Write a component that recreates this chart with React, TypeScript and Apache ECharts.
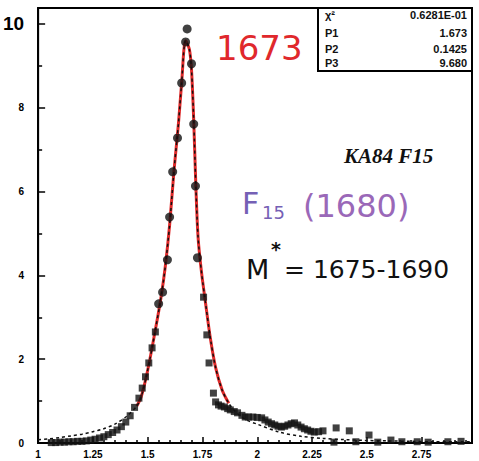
import React, { useEffect, useRef } from "react";
import * as echarts from "echarts";

// Axis settings
const xTicks = [1, 1.25, 1.5, 1.75, 2, 2.25, 2.5, 2.75];
const yTicks = [0, 2, 4, 6, 8, 10];

// Data points near the peak (drawn as dots)
const peakX = [1.55, 1.568, 1.59, 1.60, 1.614, 1.636, 1.655, 1.673, 1.68, 1.70, 1.71, 1.718, 1.727];
const peakY = [3.32, 3.60, 4.37, 5.39, 6.47, 7.28, 8.59, 9.57, 9.88, 9.05, 7.61, 6.13, 4.42];

// Data points, left tail (squares)
const leftX = [1.06, 1.08, 1.10, 1.12, 1.14, 1.16, 1.18, 1.20, 1.22, 1.24, 1.26, 1.28, 1.30, 1.32, 1.34, 1.36, 1.38, 1.40, 1.42, 1.44, 1.46, 1.475, 1.49, 1.505, 1.52, 1.535];
const leftY = [0.01, 0.01, 0.02, 0.02, 0.03, 0.03, 0.04, 0.04, 0.05, 0.07, 0.09, 0.12, 0.15, 0.20, 0.25, 0.31, 0.39, 0.50, 0.65, 0.85, 1.07, 1.31, 1.58, 1.91, 2.27, 2.65];

// Data points, right tail (squares)
const rightX = [1.755, 1.77, 1.78, 1.80, 1.81, 1.823, 1.835, 1.85, 1.865, 1.877, 1.895, 1.91, 1.93, 1.945, 1.96, 1.98, 2.0, 2.02, 2.035, 2.05, 2.065, 2.08, 2.095, 2.11, 2.125, 2.14, 2.155, 2.17, 2.185, 2.20, 2.215, 2.23, 2.245, 2.26, 2.28, 2.30, 2.36, 2.42, 2.51, 2.61, 2.73, 2.87, 2.35, 2.45, 2.55, 2.66, 2.78, 2.93];
const rightY = [3.48, 2.58, 1.91, 1.19, 0.98, 0.91, 0.88, 0.86, 0.82, 0.79, 0.75, 0.72, 0.66, 0.62, 0.62, 0.62, 0.61, 0.60, 0.55, 0.50, 0.46, 0.43, 0.40, 0.38, 0.40, 0.43, 0.46, 0.48, 0.43, 0.38, 0.34, 0.31, 0.28, 0.26, 0.27, 0.29, 0.36, 0.29, 0.19, 0.07, 0.03, 0.03, 0.02, 0.03, 0.02, 0.03, 0.02, 0.04];

// Fit curve (dashed, full range)
const fitX = [1.0, 1.05, 1.1, 1.15, 1.2, 1.25, 1.3, 1.35, 1.4, 1.45, 1.47, 1.49, 1.51, 1.535, 1.56, 1.58, 1.60, 1.62, 1.64, 1.655, 1.673, 1.69, 1.70, 1.71, 1.72, 1.73, 1.745, 1.765, 1.786, 1.81, 1.84, 1.87, 1.9, 1.95, 2.0, 2.1, 2.2, 2.3, 2.4, 2.5, 2.6, 2.7, 2.8, 2.9, 2.98];
const fitY = [0.08, 0.10, 0.13, 0.17, 0.21, 0.27, 0.34, 0.45, 0.62, 0.88, 1.1, 1.5, 2.0, 2.7, 3.45, 4.2, 5.2, 6.5, 7.6, 8.6, 9.6, 9.4, 8.9, 7.7, 6.1, 4.9, 4.1, 3.3, 2.5, 1.8, 1.26, 0.95, 0.75, 0.55, 0.45, 0.26, 0.16, 0.11, 0.08, 0.06, 0.05, 0.04, 0.03, 0.03, 0.03];

// Hand-drawn red overlay (central part of the fit)
const redX = [1.45, 1.47, 1.49, 1.51, 1.535, 1.56, 1.58, 1.60, 1.62, 1.64, 1.655, 1.673, 1.69, 1.70, 1.71, 1.72, 1.73, 1.745, 1.765, 1.786, 1.81, 1.84, 1.87];
const redY = [0.88, 1.1, 1.5, 2.0, 2.7, 3.45, 4.2, 5.2, 6.5, 7.6, 8.6, 9.6, 9.4, 8.9, 7.7, 6.1, 4.9, 4.1, 3.3, 2.5, 1.8, 1.26, 0.95];

// Fit statistics box
const statNames = ["χ²", "P1", "P2", "P3"];
const statValues = ["0.6281E-01", "1.673", "0.1425", "9.680"];

const zip = (xs: number[], ys: number[]) => xs.map((x, i) => [x, ys[i]]);

export default function App() {
  const ref = useRef<HTMLDivElement>(null);
  useEffect(() => {
    if (!ref.current) return;
    const chart = echarts.init(ref.current, null, { renderer: "svg" });
    const statRowsY = [15, 33, 49, 63];
    const statGraphics: any[] = [];
    statNames.forEach((n, i) => {
      statGraphics.push({
        type: "text",
        x: 325,
        y: statRowsY[i],
        z: 100,
        style: { text: n, font: "bold 11px 'Liberation Sans'", fill: "#111", textVerticalAlign: "middle", textAlign: "left" },
      });
      statGraphics.push({
        type: "text",
        x: 467,
        y: statRowsY[i],
        z: 100,
        style: { text: statValues[i], font: "bold 11px 'Liberation Sans'", fill: "#111", textVerticalAlign: "middle", textAlign: "right" },
      });
    });

    chart.setOption({
      animation: false,
      backgroundColor: "#fff",
      grid: { left: 37, top: 8, right: 7, bottom: 18, show: true, borderColor: "#000", borderWidth: 2, backgroundColor: "transparent" },
      xAxis: {
        type: "value",
        min: 1,
        max: 2.98,
        interval: 0.25,
        splitLine: { show: false },
        axisLine: { lineStyle: { color: "#000", width: 2 } },
        axisTick: { inside: true, length: 6, lineStyle: { color: "#000", width: 1.5 } },
        minorTick: { show: true, splitNumber: 5, length: 3, lineStyle: { color: "#000", width: 1.5 } },
        axisLabel: {
          color: "#000",
          fontWeight: "bold",
          fontSize: 10,
          fontFamily: "Liberation Sans",
          margin: 6,
          showMaxLabel: false,
          formatter: (v: number) => (xTicks.some((t) => Math.abs(t - v) < 1e-6) ? String(v) : ""),
        },
      },
      yAxis: {
        type: "value",
        min: 0,
        max: 10.38,
        interval: 2,
        splitLine: { show: false },
        axisLine: { lineStyle: { color: "#000", width: 2 } },
        axisTick: { inside: true, length: 7, lineStyle: { color: "#000", width: 1.5 } },
        minorTick: { show: true, splitNumber: 2, length: 4, lineStyle: { color: "#000", width: 1.5 } },
        axisLabel: {
          color: "#000",
          fontWeight: "bold",
          fontSize: 10,
          fontFamily: "Liberation Sans",
          margin: 14,
          showMaxLabel: false,
          formatter: (v: number) => {
            if (!yTicks.includes(v)) return "";
            return v === 10 ? "{big|10}" : String(v);
          },
          rich: { big: { fontSize: 19, fontWeight: "bold", fontFamily: "Liberation Sans", color: "#000" } },
        },
      },
      series: [
        {
          type: "line",
          data: zip(redX, redY),
          showSymbol: false,
          smooth: 0.3,
          lineStyle: { color: "#e02a2a", width: 3 },
          z: 2,
        },
        {
          type: "line",
          data: zip(fitX, fitY),
          showSymbol: false,
          smooth: 0.3,
          lineStyle: { color: "#111", width: 1.5, type: [3, 3] },
          z: 3,
        },
        {
          type: "scatter",
          data: zip(leftX, leftY),
          symbol: "rect",
          symbolSize: 7,
          itemStyle: { color: "#111" },
          z: 4,
        },
        {
          type: "scatter",
          data: zip(rightX, rightY),
          symbol: "rect",
          symbolSize: 7,
          itemStyle: { color: "#111" },
          z: 4,
        },
        {
          type: "scatter",
          data: zip(peakX, peakY),
          symbol: "circle",
          symbolSize: 9,
          itemStyle: { color: "#111" },
          z: 5,
        },
      ],
      graphic: [
        {
          type: "rect",
          z: 90,
          shape: { x: 318, y: 8, width: 154, height: 63 },
          style: { fill: "#fff", stroke: "#000", lineWidth: 2 },
        },
        ...statGraphics,
        {
          type: "text",
          x: 216,
          y: 48,
          z: 100,
          style: { text: "1673", font: "34px 'DejaVu Sans'", fill: "#e0282c", textVerticalAlign: "middle" },
        },
        {
          type: "text",
          x: 344,
          y: 156,
          z: 100,
          style: { text: "KA84 F15", font: "italic bold 21px 'Liberation Serif'", fill: "#111", textVerticalAlign: "middle" },
        },
        {
          type: "text",
          x: 242,
          y: 203,
          z: 100,
          style: { text: "F", font: "30px 'DejaVu Sans'", fill: "#7560b5", textVerticalAlign: "middle" },
        },
        {
          type: "text",
          x: 262,
          y: 212,
          z: 100,
          style: { text: "15", font: "18px 'DejaVu Sans'", fill: "#7560b5", textVerticalAlign: "middle" },
        },
        {
          type: "text",
          x: 303,
          y: 206,
          z: 100,
          style: { text: "(1680)", font: "32px 'DejaVu Sans'", fill: "#9a68b8", textVerticalAlign: "middle" },
        },
        {
          type: "text",
          x: 246,
          y: 269,
          z: 100,
          style: { text: "M", font: "27px 'DejaVu Sans'", fill: "#111", textVerticalAlign: "middle" },
        },
        {
          type: "text",
          x: 271,
          y: 249,
          z: 100,
          style: { text: "*", font: "bold 19px 'DejaVu Sans'", fill: "#111", textVerticalAlign: "middle" },
        },
        {
          type: "text",
          x: 284,
          y: 269,
          z: 100,
          style: { text: "= 1675-1690", font: "25px 'DejaVu Sans'", fill: "#111", textVerticalAlign: "middle" },
        },
      ],
    });
    return () => chart.dispose();
  }, []);
  return <div ref={ref} style={{ width: 479, height: 461, position: "absolute", left: 0, top: 0 }} />;
}
